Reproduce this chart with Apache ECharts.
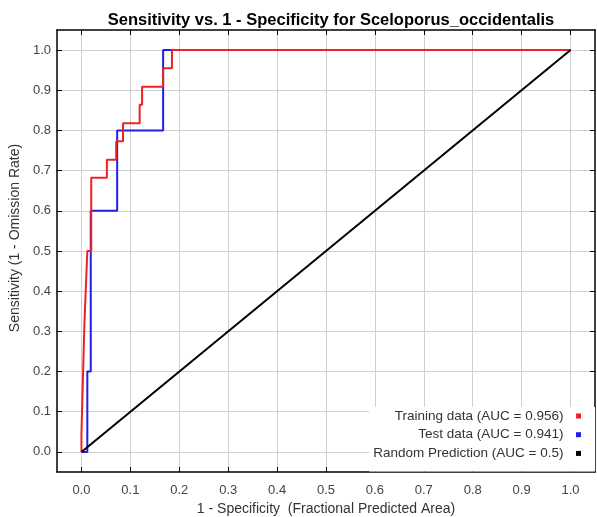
<!DOCTYPE html>
<html>
<head>
<meta charset="utf-8">
<script src="https://cdn.jsdelivr.net/npm/echarts@6/dist/echarts.min.js"></script>
<style>html,body{margin:0;padding:0;background:#fff;}#c{width:597px;height:517px;}</style>
</head>
<body>
<div id="c"></div>
<script>
const titleText = 'Sensitivity vs. 1 - Specificity for Sceloporus_occidentalis';
const xAxisTitle = '1 - Specificity  (Fractional Predicted Area)';
const yAxisTitle = 'Sensitivity (1 - Omission Rate)';
const xTicks = [0.0, 0.1, 0.2, 0.3, 0.4, 0.5, 0.6, 0.7, 0.8, 0.9, 1.0];
const yTicks = [0.0, 0.1, 0.2, 0.3, 0.4, 0.5, 0.6, 0.7, 0.8, 0.9, 1.0];
const seriesNames = ['Training data (AUC = 0.956)', 'Test data (AUC = 0.941)', 'Random Prediction (AUC = 0.5)'];
const trainX = [0, 0, 0.003, 0.003, 0.006, 0.006, 0.009, 0.009, 0.012, 0.012, 0.020, 0.020, 0.052, 0.052, 0.071, 0.071, 0.085, 0.085, 0.119, 0.119, 0.124, 0.124, 0.167, 0.167, 0.185, 0.185, 1.0];
const trainY = [0, 0.045, 0.045, 0.182, 0.182, 0.318, 0.318, 0.409, 0.409, 0.5, 0.5, 0.682, 0.682, 0.727, 0.727, 0.773, 0.773, 0.818, 0.818, 0.864, 0.864, 0.909, 0.909, 0.955, 0.955, 1.0, 1.0];
const testX = [0, 0.012, 0.012, 0.019, 0.019, 0.073, 0.073, 0.167, 0.167, 1.0];
const testY = [0, 0, 0.2, 0.2, 0.6, 0.6, 0.8, 0.8, 1.0, 1.0];
const randX = [0, 1];
const randY = [0, 1];

const zip = (xs, ys) => xs.map((x, i) => [x, ys[i]]);
const FONT = '"Liberation Sans", Arial, sans-serif';
const fmt = v => Number(v).toFixed(1);

const baseAxis = {
  type: 'value', min: -0.05, max: 1.05,
  axisLine: { show: true, onZero: false, lineStyle: { color: '#000', width: 1.5 } },
  axisTick: { show: true, inside: true, length: 5, lineStyle: { color: '#000', width: 1 } },
};

const chart = echarts.init(document.getElementById('c'), null, { renderer: 'canvas' });
chart.setOption({
  animation: false,
  backgroundColor: '#fff',
  title: {
    text: titleText, left: 326, textAlign: 'center', top: 7,
    textStyle: { fontFamily: FONT, fontSize: 16.5, fontWeight: 'bold', color: '#000' }
  },
  grid: { left: 57, right: 2, top: 30, bottom: 45, containLabel: false, outerBoundsMode: 'none' },
  legend: {
    data: seriesNames, orient: 'vertical', align: 'right',
    right: 2, top: 407,
    padding: [2, 14, 11, 4],
    itemGap: 4.7, itemWidth: 5, itemHeight: 5, icon: 'rect',
    backgroundColor: '#fff',
    formatter: n => n + '  ',
    textStyle: { fontFamily: FONT, fontSize: 13.5, color: '#333', lineHeight: 14 }
  },
  xAxis: [
    Object.assign({}, baseAxis, {
      position: 'bottom',
      name: xAxisTitle, nameLocation: 'middle', nameGap: 28,
      nameTextStyle: { fontFamily: FONT, fontSize: 14, color: '#333' },
      axisTick: Object.assign({}, baseAxis.axisTick, { customValues: xTicks }),
      axisLabel: { customValues: xTicks, formatter: fmt, margin: 12, fontFamily: FONT, fontSize: 13, color: '#444' },
      splitLine: { show: true, lineStyle: { color: '#cfcfcf', width: 1 } }
    }),
    Object.assign({}, baseAxis, {
      position: 'top',
      axisTick: Object.assign({}, baseAxis.axisTick, { customValues: xTicks }),
      axisLabel: { show: false },
      splitLine: { show: false }
    })
  ],
  yAxis: [
    Object.assign({}, baseAxis, {
      position: 'left',
      name: yAxisTitle, nameLocation: 'middle', nameGap: 27,
      nameTextStyle: { fontFamily: FONT, fontSize: 14, color: '#333', padding: [0, 0, 0, 26] },
      axisTick: Object.assign({}, baseAxis.axisTick, { customValues: yTicks }),
      axisLabel: { customValues: yTicks, formatter: fmt, margin: 6, fontFamily: FONT, fontSize: 13, color: '#444' },
      splitLine: { show: true, lineStyle: { color: '#cfcfcf', width: 1 } }
    }),
    Object.assign({}, baseAxis, {
      position: 'right',
      axisTick: Object.assign({}, baseAxis.axisTick, { customValues: yTicks }),
      axisLabel: { show: false },
      splitLine: { show: false }
    })
  ],
  series: [
    { name: seriesNames[1], type: 'line', data: zip(testX, testY), showSymbol: false, symbol: 'none',
      color: '#2020e6', lineStyle: { color: '#2020e6', width: 2 }, z: 2 },
    { name: seriesNames[0], type: 'line', data: zip(trainX, trainY), showSymbol: false, symbol: 'none',
      color: '#ee2222', lineStyle: { color: '#ee2222', width: 2 }, z: 3 },
    { name: seriesNames[2], type: 'line', data: zip(randX, randY), showSymbol: false, symbol: 'none',
      color: '#000', lineStyle: { color: '#000', width: 2 }, z: 4 }
  ]
});
</script>
</body>
</html>
